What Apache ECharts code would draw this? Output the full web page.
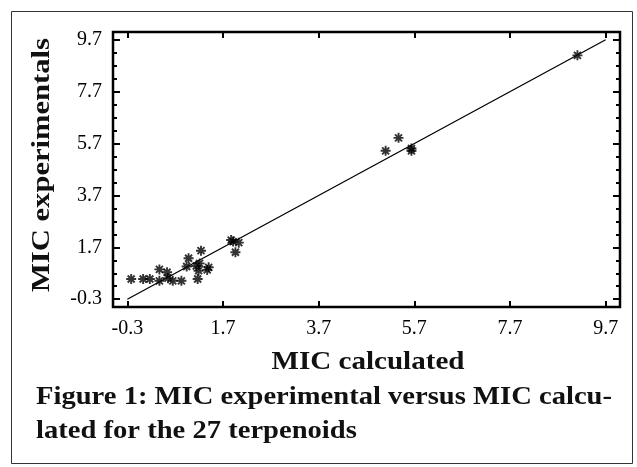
<!DOCTYPE html>
<html><head><meta charset="utf-8">
<script src="https://cdn.jsdelivr.net/npm/echarts@6/dist/echarts.min.js"></script>
<style>html,body{margin:0;padding:0;background:#fff}#c{width:637px;height:467px}</style>
</head><body><div id="c"></div>
<script>
// ---- data ----
const micCalculated   = [-0.22, 0.03, 0.17, 0.37, 0.37, 0.53, 0.55, 0.65, 0.83, 0.98, 0.94, 1.24, 1.14, 1.21, 1.19, 1.17, 1.40, 1.37, 1.87, 1.91, 2.03, 1.96, 5.10, 5.37, 5.64, 5.64, 9.11];
const micExperimental = [ 0.48, 0.48, 0.48, 0.85, 0.41, 0.74, 0.51, 0.41, 0.41, 1.28, 0.96, 1.57, 0.98, 1.08, 0.80, 0.48, 0.93, 0.83, 1.98, 1.92, 1.88, 1.51, 5.42, 5.92, 5.51, 5.42, 9.10];
const fitLineX = [-0.3, 9.7];
const fitLineY = [-0.3, 9.7];
const majorTicks = [-0.3, 1.7, 3.7, 5.7, 7.7, 9.7];
const minorTicksY = [-0.3, 0.2, 0.7, 1.2, 1.7, 2.2, 2.7, 3.2, 3.7, 4.2, 4.7, 5.2, 5.7, 6.2, 6.7, 7.2, 7.7, 8.2, 8.7, 9.2, 9.7];
const xTitle = 'MIC calculated';
const yTitle = 'MIC experimentals';
const captionLines = ['Figure 1: MIC experimental versus MIC calcu-', 'lated for the 27 terpenoids'];

// ---- helpers ----
const SERIF = '"Liberation Serif", "Times New Roman", serif';
const mctx = document.createElement('canvas').getContext('2d');
function measure(text, size, weight) {
  mctx.font = (weight || 'normal') + ' ' + size + 'px ' + SERIF;
  return mctx.measureText(text).width;
}
const fmt = v => (Math.round(v * 10) / 10).toFixed(1);

const tickStyle = { color: '#000', width: 2 };
function xAxisDef(pos, showLabel) {
  return {
    type: 'value', position: pos, min: -0.6, max: 10,
    axisLine: { show: false, onZero: false }, splitLine: { show: false },
    axisTick: { show: true, inside: true, length: 6, customValues: majorTicks, lineStyle: tickStyle },
    axisLabel: { show: showLabel, customValues: majorTicks, formatter: fmt, margin: 12,
      fontFamily: SERIF, fontSize: 20, color: '#000' }
  };
}
function yAxisDef(pos, ticks, len, showLabel) {
  return {
    type: 'value', position: pos, offset: 0, min: -0.6, max: 10,
    axisLine: { show: false, onZero: false }, splitLine: { show: false },
    axisTick: { show: true, inside: true, length: len, customValues: ticks, lineStyle: tickStyle },
    axisLabel: { show: showLabel, customValues: majorTicks, formatter: fmt, margin: 11,
      fontFamily: SERIF, fontSize: 20, color: '#000' }
  };
}

const capSize = 25, titleSize = 25;
const capScale = 576 / measure(captionLines[0], capSize, 'bold');
const xTitleScale = 193 / measure(xTitle, titleSize, 'bold');
const yTitleScale = 254 / measure(yTitle, 26, 'bold');

const asterisk = 'path://M5,0L5,10M0,5L10,5M1.5,1.5L8.5,8.5M8.5,1.5L1.5,8.5';

const chart = echarts.init(document.getElementById('c'), null, { renderer: 'canvas' });
chart.setOption({
  animation: false,
  backgroundColor: '#fff',
  grid: { left: 113, right: 17, top: 32, bottom: 160, show: true, borderColor: '#000', borderWidth: 2.5, backgroundColor: 'transparent' },
  xAxis: [xAxisDef('bottom', true), xAxisDef('top', false)],
  yAxis: [
    yAxisDef('left', majorTicks, 7, true),
    yAxisDef('left', minorTicksY, 4, false),
    yAxisDef('right', majorTicks, 7, false),
    yAxisDef('right', minorTicksY, 4, false)
  ],
  series: [
    {
      type: 'line', xAxisIndex: 0, yAxisIndex: 0, showSymbol: false, symbol: 'none',
      data: fitLineX.map((x, i) => [x, fitLineY[i]]),
      lineStyle: { color: '#000', width: 1.3 }
    },
    {
      type: 'scatter', xAxisIndex: 0, yAxisIndex: 0,
      data: micCalculated.map((x, i) => [x, micExperimental[i]]),
      symbol: asterisk, symbolSize: 10,
      itemStyle: { color: '#000', borderColor: '#000', borderWidth: 1.9 }
    }
  ],
  graphic: [
    { type: 'rect', silent: true, shape: { x: 11.5, y: 11.5, width: 621, height: 452 },
      style: { fill: 'none', stroke: '#333', lineWidth: 1 } },
    { type: 'text', x: 368, y: 363, scaleX: xTitleScale,
      style: { text: xTitle, fontFamily: SERIF, fontWeight: 'bold', fontSize: titleSize, fill: '#111',
        textAlign: 'center', textVerticalAlign: 'middle' } },
    { type: 'text', x: 42.5, y: 165, rotation: Math.PI / 2, scaleX: yTitleScale,
      style: { text: yTitle, fontFamily: SERIF, fontWeight: 'bold', fontSize: 26, fill: '#111',
        textAlign: 'center', textVerticalAlign: 'middle' } },
    { type: 'text', x: 36, y: 398, scaleX: capScale,
      style: { text: captionLines[0], fontFamily: SERIF, fontWeight: 'bold', fontSize: capSize, fill: '#111',
        textAlign: 'left', textVerticalAlign: 'middle' } },
    { type: 'text', x: 36, y: 432, scaleX: capScale,
      style: { text: captionLines[1], fontFamily: SERIF, fontWeight: 'bold', fontSize: capSize, fill: '#111',
        textAlign: 'left', textVerticalAlign: 'middle' } }
  ]
});
</script>
</body></html>
